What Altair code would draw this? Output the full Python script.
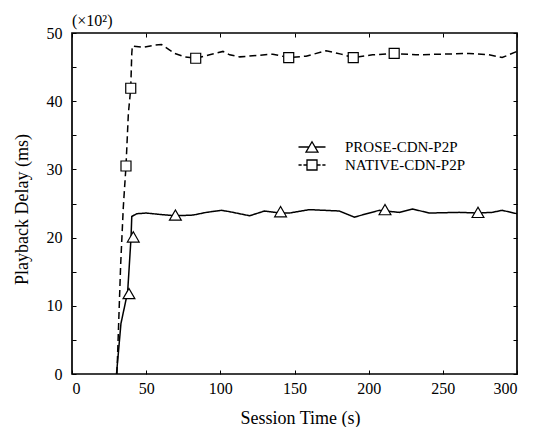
import altair as alt
import pandas as pd

series_names = ["PROSE-CDN-P2P", "NATIVE-CDN-P2P"]

prose_t = [30.0, 33.0, 37.5, 39.8, 40.3, 43.6, 50.0, 59.2, 69.7, 81.6, 90.6, 100.7, 106.3,
           119.7, 129.8, 140.6, 146.6, 160.0, 180.2, 190.3, 207.1, 220.6, 229.5, 240.8,
           260.9, 273.7, 283.3, 290.0, 300.0]
prose_v = [0.0, 7.4, 12.0, 20.0, 23.1, 23.5, 23.6, 23.4, 23.2, 23.3, 23.7, 24.0, 23.8,
           23.2, 23.9, 23.6, 23.6, 24.1, 23.9, 23.0, 24.0, 23.7, 24.2, 23.6,
           23.7, 23.6, 23.7, 24.0, 23.5]

native_t = [30.3, 32.8, 34.6, 36.4, 38.0, 39.6, 40.3, 40.7, 48.0, 55.0, 60.3, 69.3, 76.0,
            83.4, 92.8, 101.8, 106.3, 113.0, 135.4, 146.1, 157.8, 171.3, 181.4, 189.6,
            202.6, 217.2, 231.8, 249.7, 267.7, 281.1, 290.0, 300.0]
native_v = [0.0, 16.0, 24.5, 30.5, 38.2, 41.9, 47.0, 48.1, 47.9, 48.2, 48.3, 47.0, 46.5,
            46.3, 46.8, 47.3, 46.8, 46.5, 46.9, 46.4, 46.6, 47.4, 46.9, 46.4,
            46.8, 47.0, 46.8, 46.9, 47.0, 46.8, 46.4, 47.3]

prose_mark_t = [38.4, 41.3, 69.7, 140.6, 211.0, 273.7]
prose_mark_v = [11.8, 20.1, 23.3, 23.8, 24.1, 23.7]
native_mark_t = [36.4, 39.6, 83.4, 146.1, 189.6, 217.2]
native_mark_v = [30.5, 41.9, 46.3, 46.4, 46.4, 47.0]

x_ticks = [0, 50, 100, 150, 200, 250, 300]
y_ticks = [0, 5, 10, 15, 20, 25, 30, 35, 40, 45, 50]

FONT = "Liberation Serif"

line_rows = []
for name, ts, vs in [(series_names[0], prose_t, prose_v), (series_names[1], native_t, native_v)]:
    for i, (t, v) in enumerate(zip(ts, vs)):
        line_rows.append({"series": name, "t": t, "v": v, "i": i})
line_df = pd.DataFrame(line_rows)

mark_rows = []
for name, ts, vs in [(series_names[0], prose_mark_t, prose_mark_v), (series_names[1], native_mark_t, native_mark_v)]:
    for t, v in zip(ts, vs):
        mark_rows.append({"series": name, "t": t, "v": v})
mark_df = pd.DataFrame(mark_rows)

legend_df = pd.DataFrame({"series": series_names})

xscale = alt.Scale(domain=[0, 300], nice=False)
yscale = alt.Scale(domain=[0, 50], nice=False)

lines = alt.Chart(line_df).mark_line(color="black", strokeWidth=1.5).encode(
    x=alt.X("t:Q", scale=xscale,
            axis=alt.Axis(orient="bottom", values=x_ticks, offset=-4, tickSize=4, domain=False,
                          grid=False, labelPadding=6, title="Session Time (s)", titlePadding=13,
                          titleFontSize=18, titleX=228)),
    y=alt.Y("v:Q", scale=yscale,
            axis=alt.Axis(orient="left", values=y_ticks, offset=-4, tickSize=4, domain=False,
                          grid=False, labelPadding=10,
                          labelExpr="datum.value % 10 === 0 ? datum.label : ''",
                          title="Playback Delay (ms)", titlePadding=15, titleFontSize=18,
                          titleY=176)),
    strokeDash=alt.StrokeDash("series:N",
                              scale=alt.Scale(domain=series_names, range=[[1, 0], [7, 4]]),
                              legend=None),
    order=alt.Order("i:Q"),
)

points = alt.Chart(mark_df).mark_point(filled=True, fill="white", stroke="black",
                                       strokeWidth=1.2, opacity=1).encode(
    x=alt.X("t:Q", scale=xscale,
            axis=alt.Axis(orient="top", values=x_ticks, offset=-4, tickSize=4, domain=False,
                          grid=False, labels=False, title=None)),
    y=alt.Y("v:Q", scale=yscale,
            axis=alt.Axis(orient="right", values=y_ticks, offset=-4, tickSize=4, domain=False,
                          grid=False, labels=False, title=None)),
    shape=alt.Shape("series:N", scale=alt.Scale(domain=series_names, range=["triangle-up", "square"]),
                    legend=None),
    size=alt.Size("series:O", scale=alt.Scale(domain=series_names, range=[140, 100]), legend=None),
)

path_prose = ("M-1.5,0H-0.333M0.333,0H1.5"
              "M0,-0.578L0.667,0.578L-0.667,0.578Z")
path_native = ("M-1.5,0H-1.15M-0.95,0H-0.556M0.556,0H0.95M1.15,0H1.5"
               "M-0.556,-0.556H0.556V0.556H-0.556Z")

legend_layer = alt.Chart(legend_df).mark_point(color="black", filled=False, strokeWidth=1.3).encode(
    shape=alt.Shape("series:N",
                    scale=alt.Scale(domain=series_names, range=[path_prose, path_native]),
                    legend=alt.Legend(orient="none", legendX=230, legendY=104, title=None,
                                      symbolSize=324, symbolStrokeWidth=1.3,
                                      symbolStrokeColor="black", symbolOpacity=1,
                                      labelFont=FONT, labelFontSize=15, labelColor="black",
                                      labelOffset=23, rowPadding=0, padding=0)),
    opacity=alt.value(0),
)

chart = alt.layer(lines, points, legend_layer).resolve_axis(
    x="independent", y="independent"
).resolve_scale(shape="independent").properties(
    width=445, height=341,
    background="white",
    autosize=alt.AutoSizeParams(type="none"),
    padding={"left": 64, "top": 25, "right": 20, "bottom": 60},
    title=alt.TitleParams("(×10²)", anchor="start", frame="group", font=FONT, fontSize=16,
                          fontWeight="normal", color="black", offset=-4),
).configure_view(
    stroke="black", strokeWidth=1.7
).configure_axis(
    labelFont=FONT, titleFont=FONT, labelFontSize=16, titleFontSize=16,
    titleFontWeight="normal", labelColor="black", titleColor="black",
    tickColor="black", tickWidth=1
)

chart.save("out.html", embed_options={"renderer": "svg", "actions": False})
